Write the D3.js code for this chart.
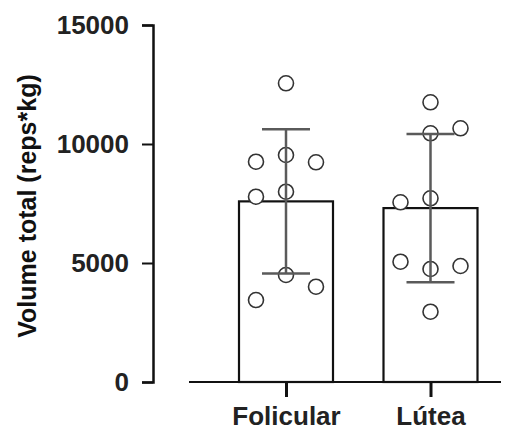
<!DOCTYPE html>
<html>
<head>
<meta charset="utf-8">
<script src="https://cdn.jsdelivr.net/npm/d3@7"></script>
<style>
  body { margin: 0; background: #fff; }
  text { font-family: "Liberation Sans", Arial, sans-serif; font-weight: bold; fill: #111; }
</style>
</head>
<body>
<div id="chart"></div>
<script>
// data
var phases = ["Folicular", "Lútea"];
var folicular = [12550, 9256, 9538, 9231, 7786, 7996, 4496, 4004, 3445];
var folicularLane = [0, -1, 0, 1, -1, 0, 0, 1, -1];
var lutea = [11752, 10450, 10660, 7550, 7718, 5055, 4748, 4874, 2954];
var luteaLane = [0, 0, 1, -1, 0, -1, 0, 1, 0];
var yTicks = [0, 5000, 10000, 15000];
var yLabel = "Volume total (reps*kg)";

var width = 520, height = 430;

var svg = d3.select("#chart").append("svg")
    .attr("width", width)
    .attr("height", height);

var y = d3.scaleLinear().domain([0, 15000]).range([382, 25]);
var x = d3.scalePoint().domain(phases).range([286, 430.5]);
var lane = d3.scaleLinear().domain([-1, 1]).range([-30, 30]);

var groups = [
    {name: phases[0], values: folicular, lanes: folicularLane},
    {name: phases[1], values: lutea, lanes: luteaLane}
];
groups.forEach(function (g) {
    g.mean = d3.mean(g.values);
    g.sd = d3.deviation(g.values);
});

var barW = 94;

// bars
svg.selectAll(".bar")
    .data(groups)
    .enter().append("rect")
    .attr("class", "bar")
    .attr("x", function (d) { return x(d.name) - barW / 2; })
    .attr("y", function (d) { return y(d.mean); })
    .attr("width", barW)
    .attr("height", function (d) { return y(0) - y(d.mean); })
    .style("fill", "#fff")
    .style("stroke", "#111")
    .style("stroke-width", 2.2);

// points
groups.forEach(function (g) {
    svg.append("g").selectAll("circle")
        .data(g.values)
        .enter().append("circle")
        .attr("cx", function (d, i) { return x(g.name) + lane(g.lanes[i]); })
        .attr("cy", function (d) { return y(d); })
        .attr("r", 7.5)
        .style("fill", "#fff")
        .style("stroke", "#333")
        .style("stroke-width", 1.6);
});

// error bars (mean +/- sd)
var errColor = "#5a5a5a";
var capW = 48;
var eb = svg.append("g").selectAll("g")
    .data(groups)
    .enter().append("g");
eb.append("line")
    .attr("x1", function (d) { return x(d.name); })
    .attr("x2", function (d) { return x(d.name); })
    .attr("y1", function (d) { return y(d.mean + d.sd); })
    .attr("y2", function (d) { return y(d.mean - d.sd); })
    .style("stroke", errColor).style("stroke-width", 2.5);
eb.append("line")
    .attr("x1", function (d) { return x(d.name) - capW / 2; })
    .attr("x2", function (d) { return x(d.name) + capW / 2; })
    .attr("y1", function (d) { return y(d.mean + d.sd); })
    .attr("y2", function (d) { return y(d.mean + d.sd); })
    .style("stroke", errColor).style("stroke-width", 2.5);
eb.append("line")
    .attr("x1", function (d) { return x(d.name) - capW / 2; })
    .attr("x2", function (d) { return x(d.name) + capW / 2; })
    .attr("y1", function (d) { return y(d.mean - d.sd); })
    .attr("y2", function (d) { return y(d.mean - d.sd); })
    .style("stroke", errColor).style("stroke-width", 2.5);

// y axis
var yAxis = svg.append("g")
    .attr("transform", "translate(153,0)")
    .call(d3.axisLeft(y).tickValues(yTicks).tickFormat(d3.format("d")).tickSize(11).tickPadding(13));
yAxis.select(".domain").style("stroke", "#111").style("stroke-width", 2.5);
yAxis.selectAll(".tick line").style("stroke", "#111").style("stroke-width", 2);
yAxis.selectAll(".tick text")
    .style("font-size", "26px")
    .style("font-family", "Liberation Sans, Arial, sans-serif")
    .style("font-weight", "bold")
    .style("fill", "#222");

// x axis
svg.append("line")
    .attr("x1", 189).attr("x2", 501)
    .attr("y1", y(0)).attr("y2", y(0))
    .style("stroke", "#111").style("stroke-width", 2.2);
var xAxis = svg.append("g")
    .attr("transform", "translate(0," + y(0) + ")")
    .call(d3.axisBottom(x).tickSize(15).tickPadding(10));
xAxis.select(".domain").remove();
xAxis.selectAll(".tick line").style("stroke", "#111").style("stroke-width", 3);
xAxis.selectAll(".tick text")
    .style("font-size", "26px")
    .style("font-family", "Liberation Sans, Arial, sans-serif")
    .style("font-weight", "bold")
    .style("fill", "#222");

// y label
svg.append("text")
    .attr("transform", "translate(36,206) rotate(-90)")
    .attr("text-anchor", "middle")
    .style("font-size", "25px")
    .text(yLabel);
</script>
</body>
</html>
